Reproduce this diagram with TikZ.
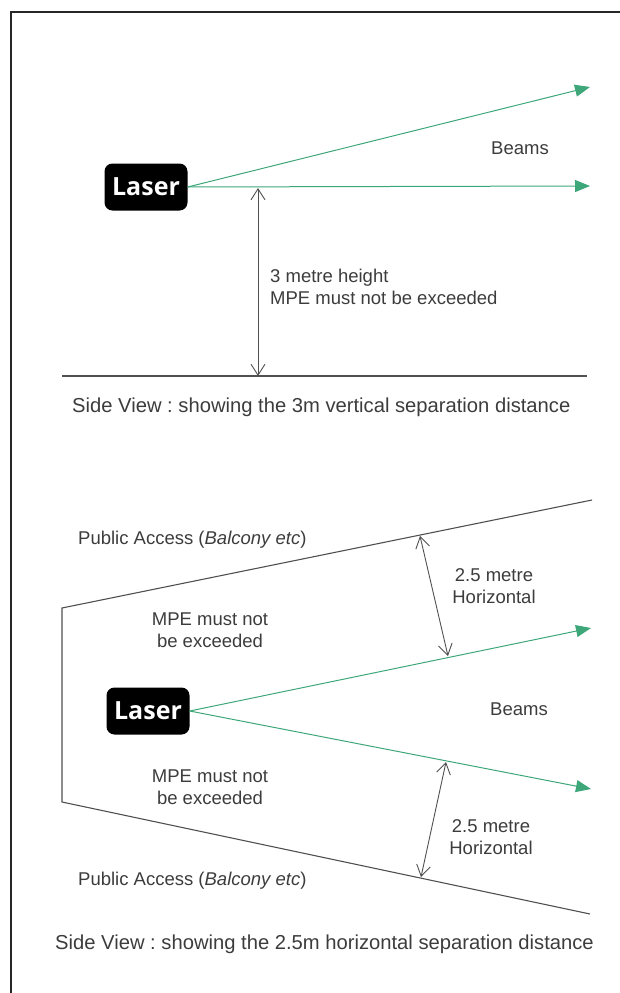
\documentclass[tikz,border=0pt]{standalone}
\usepackage{fontspec}
\setmainfont{Liberation Sans}
\newfontfamily\laserfont{Open Sans}
\usetikzlibrary{arrows.meta,calc}
\frenchspacing
\definecolor{beamgreen}{HTML}{3DA77A}
\definecolor{linegray}{HTML}{505050}
\definecolor{txtgray}{HTML}{3C3C3C}
\tikzset{
  laserbox/.style={fill=black,rounded corners=8pt,minimum width=83pt,minimum height=47pt,inner sep=0pt,text=white,font=\laserfont\bfseries\fontsize{25}{27}\selectfont},
  beam/.style={draw=beamgreen,line width=1pt,-{Triangle[length=15pt,width=12pt]}},
  dim/.style={draw=linegray,line width=0.9pt,{Straight Barb[length=11pt,width=14pt]}-{Straight Barb[length=11pt,width=14pt]}},
  bound/.style={draw=linegray,line width=1.1pt},
  lbltxt/.style={text=txtgray,inner sep=0pt,font=\fontsize{18.5}{21.5}\selectfont},
  captxt/.style={text=txtgray,inner sep=0pt,font=\fontsize{20.2}{23}\selectfont}
}
\begin{document}
\begin{tikzpicture}[x=1pt,y=-1pt]
\useasboundingbox (0,0) rectangle (620,993);
% frame
\coordinate (fbl) at (11,993);
\coordinate (ftl) at (11,12);
\coordinate (ftr) at (620,12);
\draw[line width=2.2pt,black!85] (fbl) -- (ftl) -- (ftr);

% ---- top view ----
\node[laserbox] (laser1) at (146,187) {Laser};
\coordinate (b1up) at (590,87);
\coordinate (b1h) at (590,186);
\draw[beam] (laser1.east) -- (b1up);
\draw[beam] (laser1.east) -- (b1h);
\node[lbltxt] (beams1) at (520,148) {Beams};
\coordinate (g1) at (62,376);
\coordinate (g2) at (587,376);
\draw[bound] (g1) -- (g2);
\coordinate (va) at (258,188);
\coordinate (vb) at (258,376);
\draw[dim] (va) -- (vb);
\node[lbltxt,anchor=west,align=left] (h3) at (270,287) {3 metre height\\MPE must not be exceeded};
\node[captxt,anchor=base west] (cap1) at (72,412) {Side View : showing the 3m vertical separation distance};

% ---- bottom view ----
\coordinate (ubr) at (592,500);
\coordinate (ubl) at (62,608);
\coordinate (lbcorner) at (62,802);
\coordinate (lbr) at (590,914);
\draw[bound] (ubr) -- (ubl) -- (lbcorner) -- (lbr);
\node[laserbox] (laser2) at (148,711) {Laser};
\coordinate (b2up) at (591,628);
\coordinate (b2dn) at (591,789);
\draw[beam] (laser2.east) -- (b2up);
\draw[beam] (laser2.east) -- (b2dn);
\node[lbltxt] (beams2) at (519,709) {Beams};
\coordinate (d1a) at (420,536);
\coordinate (d1b) at (448,656);
\draw[dim] (d1a) -- (d1b);
\coordinate (d2a) at (446,762);
\coordinate (d2b) at (421,877);
\draw[dim] (d2a) -- (d2b);
\node[lbltxt,align=center] (h25a) at (494,586) {2.5 metre\\Horizontal};
\node[lbltxt,align=center] (h25b) at (491,837) {2.5 metre\\Horizontal};
\node[lbltxt,align=center] (mpea) at (210,630) {MPE must not\\be exceeded};
\node[lbltxt,align=center] (mpeb) at (210,787) {MPE must not\\be exceeded};
\node[lbltxt,anchor=west] (pa1) at (78,540) {Public Access (\textit{Balcony etc})};
\node[lbltxt,anchor=west] (pa2) at (78,881) {Public Access (\textit{Balcony etc})};
\node[captxt,anchor=base west] (cap2) at (55,949) {Side View : showing the 2.5m horizontal separation distance};
\end{tikzpicture}
\end{document}
